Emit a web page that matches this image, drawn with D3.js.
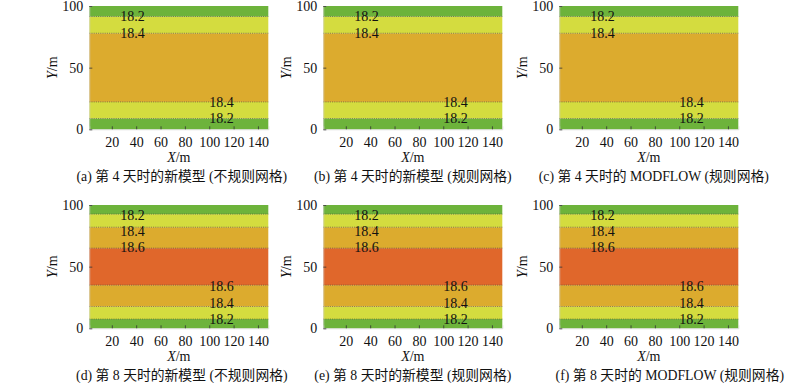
<!DOCTYPE html>
<html>
<head>
<meta charset="utf-8">
<script src="https://cdn.jsdelivr.net/npm/d3@7/dist/d3.min.js"></script>
<style>
  html, body { margin: 0; padding: 0; background: #fff; }
  svg { display: block; }
  text { font-family: "Liberation Serif", "Noto Sans CJK SC", serif; fill: #111; }
</style>
</head>
<body>
<script>
// ---------- data ----------
const captions = [
  "(a) 第 4 天时的新模型 (不规则网格)",
  "(b) 第 4 天时的新模型 (规则网格)",
  "(c) 第 4 天时的 MODFLOW (规则网格)",
  "(d) 第 8 天时的新模型 (不规则网格)",
  "(e) 第 8 天时的新模型 (规则网格)",
  "(f) 第 8 天时的 MODFLOW (规则网格)"
];
const panelDay = [4, 4, 4, 8, 8, 8];
const xTicks = [20, 40, 60, 80, 100, 120, 140];
const yTicks = [0, 50, 100];
// contour lines: level and Y position (m) at which the level is crossed
const day4Levels = [18.2, 18.4, 18.4, 18.2];
const day4Ypos   = [8.8, 22.2, 77.9, 91.5];
const day8Levels = [18.2, 18.4, 18.6, 18.6, 18.4, 18.2];
const day8Ypos   = [7.5, 17.6, 35.0, 65.0, 82.0, 92.6];
// head value of each band (bottom to top), between contours
const day4Bands = [18.1, 18.3, 18.5, 18.3, 18.1];
const day8Bands = [18.1, 18.3, 18.5, 18.7, 18.5, 18.3, 18.1];
// X position of labels for the lower / upper contours
const labelXLower = 110, labelXUpper = 37;

// ---------- layout ----------
const W = 800, H = 383;
const plotW = 179, plotH = 123.3;
const colX = [89.3, 323.3, 559.3];
const rowY = [6, 205];
const captionShift = [3, 0, 5, 3, 0, 21];
const labelNudge4 = [0, 0, 0, 0];
const labelNudge8 = [0, -3, 0.5, -1, 4, 1];

const colorBand = v => v < 18.2 ? "#6db33b" : v < 18.4 ? "#d4dc3f" : v < 18.6 ? "#dcab2e" : "#e0672b";

const svg = d3.select("body").append("svg").attr("width", W).attr("height", H);

const x = d3.scaleLinear().domain([1.5, 148.5]).range([0, plotW]);
const y = d3.scaleLinear().domain([0, 100]).range([plotH, 0]);

captions.forEach((cap, i) => {
  const col = i % 3, row = Math.floor(i / 3);
  const g = svg.append("g").attr("transform", `translate(${colX[col]},${rowY[row]})`);
  const day4 = panelDay[i] === 4;
  const levels = day4 ? day4Levels : day8Levels;
  const ypos = day4 ? day4Ypos : day8Ypos;
  const bands = day4 ? day4Bands : day8Bands;
  const nudge = day4 ? labelNudge4 : labelNudge8;
  const edges = [0, ...ypos, 100];

  g.selectAll("rect.band").data(bands).join("rect")
    .attr("class", "band")
    .attr("x", x(1.5)).attr("width", x(148.5) - x(1.5))
    .attr("y", (d, k) => y(edges[k + 1]))
    .attr("height", (d, k) => y(edges[k]) - y(edges[k + 1]))
    .attr("fill", d => colorBand(d));

  g.selectAll("line.contour").data(ypos).join("line")
    .attr("class", "contour")
    .attr("x1", x(1.5)).attr("x2", x(148.5))
    .attr("y1", d => y(d)).attr("y2", d => y(d))
    .attr("stroke", "#4a4a30").attr("stroke-width", 0.8)
    .attr("stroke-dasharray", "1,1.2").attr("opacity", 0.8);

  g.selectAll("text.clab").data(levels).join("text")
    .attr("class", "clab")
    .attr("x", (d, k) => x(ypos[k] < 50 ? labelXLower : labelXUpper))
    .attr("y", (d, k) => y(ypos[k]) + nudge[k])
    .attr("dy", "0.35em")
    .attr("text-anchor", "middle")
    .attr("font-size", 14)
    .attr("fill", "#000")
    .text(d => d.toFixed(1));

  // axes
  const xa = g.append("g").attr("transform", `translate(0,${plotH})`)
    .call(d3.axisBottom(x).tickValues(xTicks).tickSize(-3).tickPadding(8));
  const ya = g.append("g")
    .call(d3.axisLeft(y).tickValues(yTicks).tickSize(-3).tickPadding(6));
  [xa, ya].forEach(a => {
    a.select(".domain").attr("stroke", "#cfcfcf").attr("stroke-width", 0.6);
    a.selectAll(".tick line").attr("stroke", "#333").attr("stroke-width", 0.8);
    a.selectAll(".tick text").attr("font-size", 14).attr("font-family", "Liberation Serif").attr("fill", "#000");
  });

  // X label
  const xl = g.append("text").attr("x", plotW / 2).attr("y", plotH + 33)
    .attr("text-anchor", "middle").attr("font-size", 14);
  xl.append("tspan").attr("font-style", "italic").text("X");
  xl.append("tspan").text("/m");

  // Y label
  const yl = g.append("text")
    .attr("transform", `translate(-32,${plotH / 2}) rotate(-90)`)
    .attr("text-anchor", "middle").attr("font-size", 14);
  yl.append("tspan").attr("font-style", "italic").text("Y");
  yl.append("tspan").text("/m");

  // caption
  g.append("text").attr("x", plotW / 2 + captionShift[i]).attr("y", plotH + 51.5)
    .attr("text-anchor", "middle").attr("font-size", 13.8).text(cap);
});
</script>
</body>
</html>
